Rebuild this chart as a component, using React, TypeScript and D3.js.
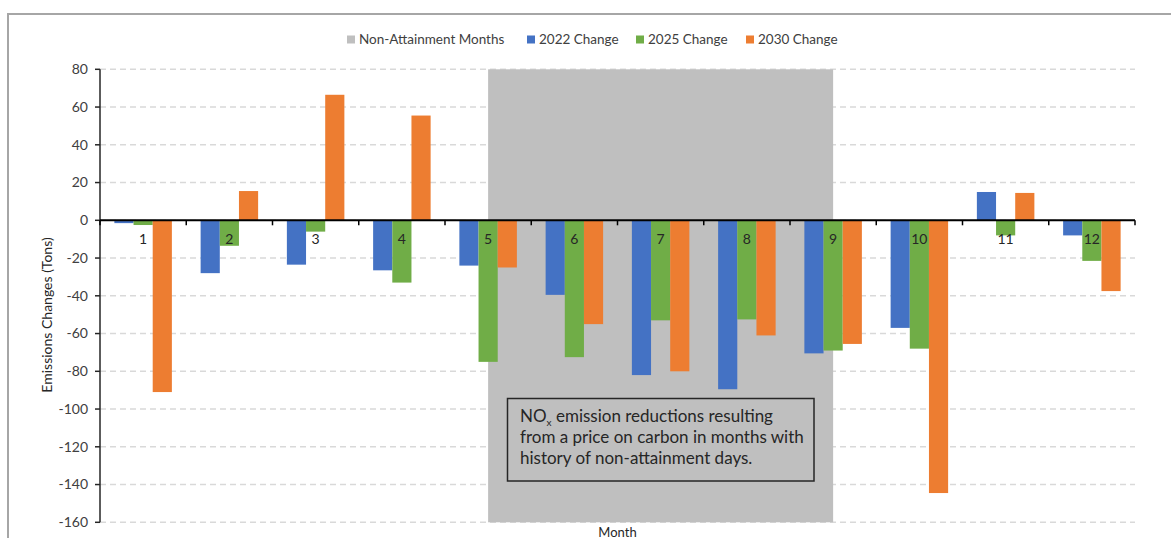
import React from "react";
import * as d3 from "d3";

const months = ["1", "2", "3", "4", "5", "6", "7", "8", "9", "10", "11", "12"];
const change2022 = [-1.5, -28, -23.5, -26.5, -24, -39.5, -82, -89.5, -70.5, -57, 15, -8];
const change2025 = [-2.5, -13.5, -6, -33, -75, -72.5, -53, -52.5, -69, -68, -8, -21.5];
const change2030 = [-91, 15.5, 66.5, 55.5, -25, -55, -80, -61, -65.5, -144.5, 14.5, -37.5];
const nonAttainmentMonths = ["5", "6", "7", "8", "9"];
const yTicks = [80, 60, 40, 20, 0, -20, -40, -60, -80, -100, -120, -140, -160];
const seriesNames = ["2022 Change", "2025 Change", "2030 Change"];
const seriesColors = ["#4472C4", "#70AD47", "#ED7D31"];
const legendItems = [
  { name: "Non-Attainment Months", color: "#BFBFBF", x: 347 },
  { name: seriesNames[0], color: seriesColors[0], x: 527 },
  { name: seriesNames[1], color: seriesColors[1], x: 636 },
  { name: seriesNames[2], color: seriesColors[2], x: 746 },
];

const FONT = "Lato, 'Open Sans', sans-serif";

export default function App() {
  const series = [change2022, change2025, change2030];
  const x = d3.scaleBand<string>().domain(months).range([100, 1135]).padding(0);
  const y = d3.scaleLinear().domain([-160, 80]).range([522.3, 69.3]);
  const bw = x.bandwidth() / 4.5;
  const first = nonAttainmentMonths[0];
  const last = nonAttainmentMonths[nonAttainmentMonths.length - 1];
  const shadeX0 = (x(first) ?? 0) + x.bandwidth() / 2;
  const shadeX1 = (x(last) ?? 0) + x.bandwidth() / 2;
  const boundaries = months.map((m) => x(m) ?? 0).concat([x.range()[1]]);

  return (
    <svg
      width={1171}
      height={538}
      style={{ position: "absolute", left: 0, top: 0, background: "#fff" }}
      fontFamily={FONT}
    >
      {/* outer chart border */}
      <rect x={8} y={14} width={1180} height={540} fill="none" stroke="#A6A6A6" strokeWidth={2} />

      {/* legend */}
      {legendItems.map((it) => (
        <g key={it.name}>
          <rect x={it.x} y={35.5} width={8} height={8} fill={it.color} />
          <text x={it.x + 12} y={44} fontSize={13.5} fill="#404040">
            {it.name}
          </text>
        </g>
      ))}

      {/* grid lines */}
      {yTicks.map((t) => (
        <line
          key={"g" + t}
          x1={100}
          x2={1135}
          y1={y(t)}
          y2={y(t)}
          stroke="#D9D9D9"
          strokeWidth={1.5}
          strokeDasharray="6,4"
        />
      ))}

      {/* non-attainment shading */}
      <rect x={shadeX0} y={y(80)} width={shadeX1 - shadeX0} height={y(-160) - y(80)} fill="#BFBFBF" />

      {/* bars */}
      {series.map((vals, si) =>
        vals.map((v, i) => {
          const x0 = (x(months[i]) ?? 0) + bw * 0.75 + si * bw;
          const y0 = y(Math.max(0, v));
          const y1 = y(Math.min(0, v));
          return (
            <rect
              key={si + "-" + i}
              x={x0}
              y={y0}
              width={bw}
              height={y1 - y0}
              fill={seriesColors[si]}
            />
          );
        })
      )}

      {/* y axis */}
      <line x1={100} x2={100} y1={y(80)} y2={y(-160)} stroke="#262626" strokeWidth={1.5} />
      {yTicks.map((t) => (
        <g key={"t" + t}>
          <line x1={95} x2={100} y1={y(t)} y2={y(t)} stroke="#262626" strokeWidth={1.5} />
          <text x={88} y={y(t)} dy="0.35em" textAnchor="end" fontSize={14} fill="#404040">
            {t}
          </text>
        </g>
      ))}

      {/* zero line and category ticks */}
      <line x1={100} x2={1135} y1={y(0)} y2={y(0)} stroke="#000" strokeWidth={2} />
      {boundaries.map((bx, i) => (
        <line key={"c" + i} x1={bx} x2={bx} y1={y(0)} y2={y(0) + 5} stroke="#000" strokeWidth={1.5} />
      ))}
      {months.map((m) => (
        <text
          key={"l" + m}
          x={(x(m) ?? 0) + x.bandwidth() / 2}
          y={243.5}
          textAnchor="middle"
          fontSize={14}
          fill="#262626"
        >
          {m}
        </text>
      ))}

      {/* axis titles */}
      <text
        transform="translate(52,315) rotate(-90)"
        textAnchor="middle"
        fontSize={14}
        fill="#262626"
      >
        Emissions Changes (Tons)
      </text>
      <text x={617.5} y={536.5} textAnchor="middle" fontSize={13} fill="#262626">
        Month
      </text>

      {/* annotation box */}
      <rect x={507.5} y={398.5} width={306.5} height={82.5} fill="none" stroke="#262626" strokeWidth={1.5} />
      <text x={520} y={422} fontSize={17} fill="#262626">
        NO
        <tspan fontSize={10} dy={4}>x</tspan>
        <tspan dy={-4}> emission reductions resulting</tspan>
      </text>
      <text x={520} y={443} fontSize={17} fill="#262626">
        from a price on carbon in months with
      </text>
      <text x={520} y={464} fontSize={17} fill="#262626">
        history of non-attainment days.
      </text>
    </svg>
  );
}
